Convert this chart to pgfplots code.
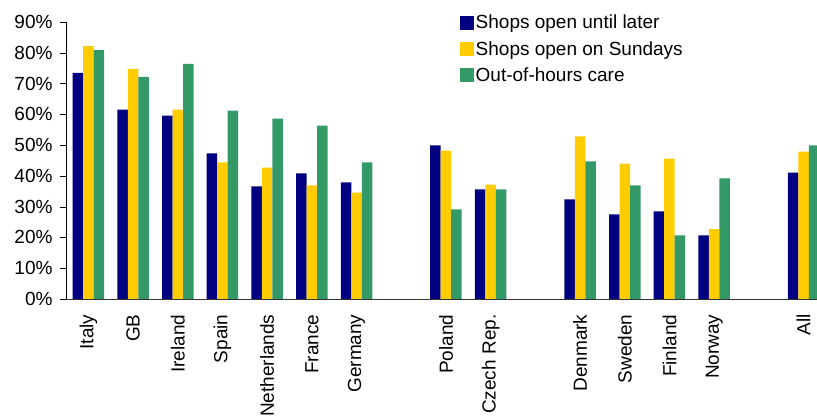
\documentclass[border=0pt]{standalone}
\usepackage{fontspec}
\setmainfont{Liberation Sans}
\usepackage{pgfplots}
\pgfplotsset{compat=1.18}
\definecolor{cblue}{HTML}{000080}
\definecolor{cyellow}{HTML}{FFCC00}
\definecolor{cgreen}{HTML}{339966}
\newcommand{\chartfont}{\fontsize{19bp}{22bp}\selectfont}
\begin{document}
\begin{tikzpicture}
\useasboundingbox (0,0) rectangle (817bp,417bp);
\begin{axis}[
  at={(66bp,118bp)}, anchor=south west,
  scale only axis, width=751bp, height=277bp,
  xmin=-0.5, xmax=16.3, ymin=0, ymax=90,
  axis x line=bottom, axis y line=left,
  axis line style={-},
  x axis line style={black!80},
  ybar=0pt, bar width=10.5bp,
  xtick={0,1,2,3,4,5,6,8,9,11,12,13,14,16},
  xticklabels={Italy,GB,Ireland,Spain,Netherlands,France,Germany,Poland,Czech Rep.,Denmark,Sweden,Finland,Norway,All},
  x tick label style={rotate=90, anchor=east, font=\chartfont, xshift=-6bp},
  xtick style={draw=none},
  ytick={0,10,20,30,40,50,60,70,80,90},
  yticklabels={0\%,10\%,20\%,30\%,40\%,50\%,60\%,70\%,80\%,90\%},
  y tick label style={font=\chartfont, xshift=-4bp},
  tick align=outside, major tick length=6bp,
  ytick style={black},
  legend style={draw=none, fill=none, at={(0.52,1.04)}, anchor=north west,
    font=\chartfont, row sep=7bp, legend cell align=left},
  legend image code/.code={\fill[#1] (0bp,-7bp) rectangle (14bp,7bp);},
]
\addplot[fill=cblue, draw=none] coordinates {(0,73.5)(1,61.5)(2,59.6)(3,47.3)(4,36.6)(5,40.8)(6,37.9)(8,49.9)(9,35.6)(11,32.4)(12,27.5)(13,28.5)(14,20.7)(16,41.1)};
\addplot[fill=cyellow, draw=none] coordinates {(0,82.2)(1,74.8)(2,61.5)(3,44.4)(4,42.7)(5,36.9)(6,34.6)(8,48.2)(9,37.2)(11,52.8)(12,44.0)(13,45.6)(14,22.7)(16,47.9)};
\addplot[fill=cgreen, draw=none] coordinates {(0,80.9)(1,72.2)(2,76.4)(3,61.2)(4,58.6)(5,56.3)(6,44.4)(8,29.1)(9,35.6)(11,44.7)(12,36.9)(13,20.7)(14,39.2)(16,49.9)};
\legend{Shops open until later, Shops open on Sundays, Out-of-hours care}
\end{axis}
\end{tikzpicture}
\end{document}
